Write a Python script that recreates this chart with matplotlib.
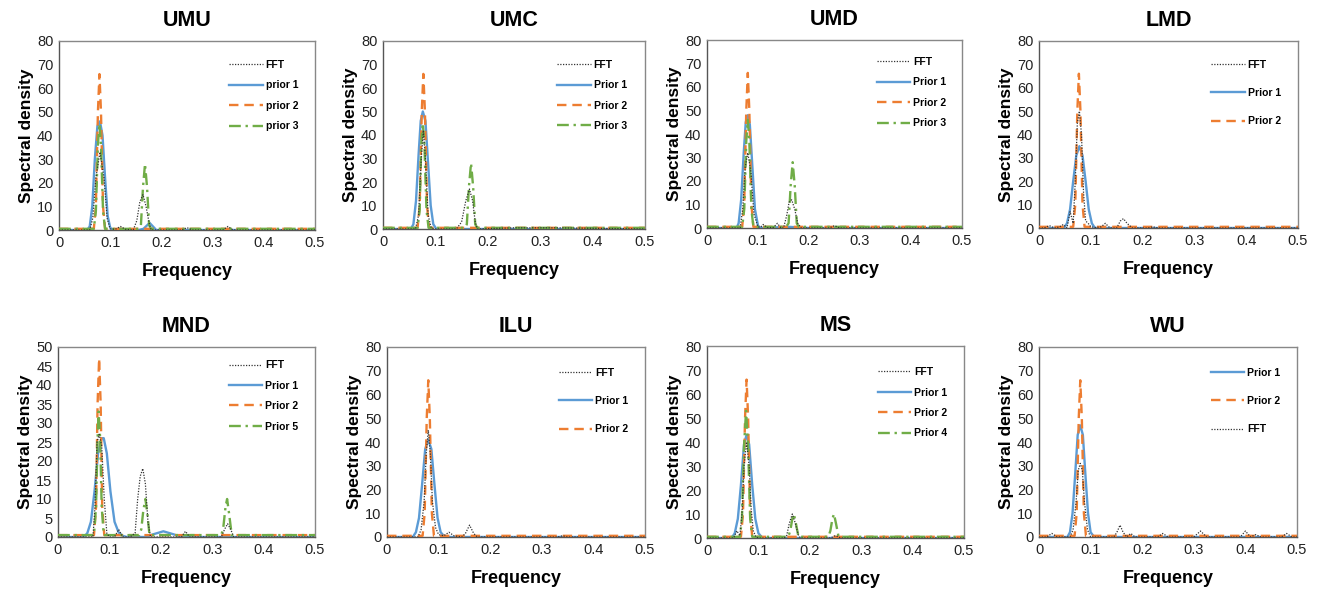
import matplotlib
matplotlib.use("Agg")
import matplotlib.pyplot as plt

plt.rcParams['font.family'] = ['Liberation Sans', 'DejaVu Sans']

# ---- data (frequency / spectral density points) ----
# UMU
UMU_FFT_F = [0, 0.06, 0.066, 0.072, 0.08, 0.088, 0.094, 0.1, 0.11, 0.12, 0.13, 0.145, 0.152, 0.158, 0.164, 0.17, 0.176, 0.18, 0.24, 0.25, 0.26, 0.32, 0.33, 0.34, 0.5]
UMU_FFT_S = [0, 0, 5, 22, 33, 22, 5, 0.5, 0.3, 1.5, 0.3, 0, 4, 12, 15, 10, 3, 0, 0, 1, 0, 0, 1.5, 0, 0]
UMU_P1_F = [0, 0.055, 0.06, 0.065, 0.07, 0.075, 0.08, 0.085, 0.09, 0.095, 0.1, 0.105, 0.155, 0.165, 0.177, 0.19, 0.5]
UMU_P1_S = [0, 0, 1.5, 10, 30, 44, 46, 40, 22, 6, 1, 0, 0, 0.5, 3, 0, 0]
UMU_P2_F = [0, 0.068, 0.072, 0.076, 0.079, 0.082, 0.086, 0.09, 0.5]
UMU_P2_S = [0.5, 0.5, 10, 50, 66, 50, 10, 0.5, 0.5]
UMU_P3_F = [0, 0.068, 0.072, 0.076, 0.079, 0.082, 0.086, 0.09, 0.155, 0.16, 0.164, 0.168, 0.172, 0.176, 0.18, 0.5]
UMU_P3_S = [0.5, 0.5, 8, 36, 45, 36, 8, 0.5, 0.5, 2, 18, 28, 18, 2, 0.5, 0.5]

# UMC
UMC_FFT_F = [0, 0.062, 0.068, 0.073, 0.077, 0.081, 0.086, 0.092, 0.1, 0.14, 0.15, 0.158, 0.165, 0.171, 0.176, 0.18, 0.25, 0.33, 0.5]
UMC_FFT_S = [0, 0, 6, 30, 42, 30, 6, 0.5, 0, 0, 3, 12, 17, 12, 3, 0, 0.5, 0.5, 0]
UMC_P1_F = [0, 0.053, 0.058, 0.063, 0.068, 0.072, 0.076, 0.081, 0.086, 0.091, 0.096, 0.102, 0.5]
UMC_P1_S = [0, 0, 2, 12, 32, 46, 50, 46, 28, 10, 2, 0, 0]
UMC_P2_F = [0, 0.066, 0.07, 0.074, 0.077, 0.08, 0.084, 0.088, 0.5]
UMC_P2_S = [0.5, 0.5, 10, 50, 66, 50, 10, 0.5, 0.5]
UMC_P3_F = [0, 0.066, 0.07, 0.073, 0.076, 0.079, 0.083, 0.087, 0.156, 0.16, 0.164, 0.168, 0.172, 0.176, 0.18, 0.5]
UMC_P3_S = [0.5, 0.5, 8, 36, 45, 36, 8, 0.5, 0.5, 2, 18, 28, 18, 2, 0.5, 0.5]

# UMD
UMD_FFT_F = [0, 0.065, 0.07, 0.075, 0.08, 0.086, 0.092, 0.1, 0.105, 0.11, 0.118, 0.13, 0.138, 0.145, 0.15, 0.156, 0.161, 0.166, 0.172, 0.178, 0.185, 0.24, 0.25, 0.26, 0.5]
UMD_FFT_S = [0, 0, 8, 26, 32, 24, 6, 0.5, 0.3, 1.5, 0.2, 0.2, 2, 0, 0, 5, 11, 12, 8, 2, 0, 0, 1, 0, 0]
UMD_P1_F = [0, 0.058, 0.062, 0.067, 0.072, 0.076, 0.08, 0.084, 0.089, 0.094, 0.1, 0.105, 0.16, 0.2, 0.5]
UMD_P1_S = [0, 0, 2, 12, 32, 45, 48, 44, 26, 8, 1, 0, 0.5, 0, 0]
UMD_P2_F = [0, 0.069, 0.073, 0.077, 0.08, 0.083, 0.087, 0.091, 0.5]
UMD_P2_S = [0.5, 0.5, 10, 50, 66, 50, 10, 0.5, 0.5]
UMD_P3_F = [0, 0.069, 0.073, 0.077, 0.08, 0.083, 0.087, 0.091, 0.155, 0.16, 0.164, 0.168, 0.172, 0.176, 0.18, 0.5]
UMD_P3_S = [0.5, 0.5, 8, 37, 46, 37, 8, 0.5, 0.5, 2, 18, 28, 18, 2, 0.5, 0.5]

# LMD
LMD_FFT_F = [0, 0.01, 0.02, 0.03, 0.04, 0.047, 0.054, 0.06, 0.066, 0.07, 0.074, 0.078, 0.082, 0.086, 0.09, 0.095, 0.1, 0.11, 0.12, 0.128, 0.137, 0.15, 0.157, 0.163, 0.17, 0.18, 0.21, 0.22, 0.23, 0.5]
LMD_FFT_S = [0, 0, 1, 0, 0.5, 1.5, 0, 7, 2, 20, 45, 50, 40, 15, 3, 2, 0.5, 0.2, 0.5, 2, 0, 0, 3, 4, 2, 0, 0, 0.5, 0, 0]
LMD_P1_F = [0, 0.048, 0.054, 0.06, 0.066, 0.072, 0.078, 0.084, 0.09, 0.096, 0.102, 0.108, 0.5]
LMD_P1_S = [0, 0, 2, 8, 20, 31, 35, 31, 20, 8, 2, 0, 0]
LMD_P2_F = [0, 0.066, 0.07, 0.074, 0.077, 0.08, 0.084, 0.088, 0.5]
LMD_P2_S = [0.5, 0.5, 10, 50, 66, 50, 10, 0.5, 0.5]

# MND
MND_FFT_F = [0, 0.068, 0.072, 0.076, 0.08, 0.085, 0.09, 0.095, 0.1, 0.11, 0.118, 0.126, 0.14, 0.15, 0.155, 0.16, 0.165, 0.17, 0.175, 0.18, 0.24, 0.248, 0.256, 0.318, 0.324, 0.33, 0.336, 0.342, 0.5]
MND_FFT_S = [0, 0, 8, 25, 27, 24, 10, 1, 0, 0, 2, 0, 0, 1, 10, 16, 18, 14, 4, 0, 0, 1.5, 0, 0, 2, 3.5, 2, 0, 0]
MND_P1_F = [0, 0.05, 0.057, 0.064, 0.071, 0.078, 0.085, 0.089, 0.095, 0.102, 0.11, 0.118, 0.126, 0.134, 0.17, 0.185, 0.205, 0.225, 0.24, 0.5]
MND_P1_S = [0, 0, 1, 4, 12, 22, 26, 26, 22, 12, 4, 1.2, 0.3, 0, 0, 0.7, 1.5, 0.7, 0, 0]
MND_P2_F = [0, 0.07, 0.074, 0.077, 0.08, 0.083, 0.086, 0.09, 0.5]
MND_P2_S = [0.5, 0.5, 8, 35, 47, 35, 8, 0.5, 0.5]
MND_P5_F = [0, 0.07, 0.074, 0.077, 0.079, 0.082, 0.085, 0.089, 0.158, 0.162, 0.166, 0.17, 0.174, 0.178, 0.318, 0.322, 0.326, 0.329, 0.333, 0.338, 0.5]
MND_P5_S = [0.5, 0.5, 8, 26, 33, 26, 8, 0.5, 0.5, 2, 7, 10, 6, 0.5, 0.5, 3, 8, 10, 6, 0.5, 0.5]

# ILU
ILU_FFT_F = [0, 0.06, 0.066, 0.072, 0.076, 0.08, 0.084, 0.088, 0.094, 0.1, 0.11, 0.12, 0.13, 0.145, 0.152, 0.16, 0.168, 0.175, 0.33, 0.34, 0.35, 0.5]
ILU_FFT_S = [0, 0, 3, 15, 35, 45, 35, 15, 4, 1, 0.5, 2, 0.5, 0, 1.5, 5, 1.5, 0, 0, 0.5, 0, 0]
ILU_P1_F = [0, 0.05, 0.056, 0.062, 0.068, 0.074, 0.08, 0.086, 0.092, 0.098, 0.104, 0.112, 0.5]
ILU_P1_S = [0, 0, 2, 8, 22, 37, 41, 37, 22, 8, 2, 0, 0]
ILU_P2_F = [0, 0.069, 0.073, 0.077, 0.08, 0.083, 0.087, 0.091, 0.5]
ILU_P2_S = [0.5, 0.5, 10, 50, 66, 50, 10, 0.5, 0.5]

# MS
MS_FFT_F = [0, 0.052, 0.058, 0.064, 0.068, 0.072, 0.077, 0.082, 0.086, 0.09, 0.095, 0.1, 0.15, 0.155, 0.16, 0.166, 0.172, 0.178, 0.182, 0.24, 0.25, 0.26, 0.5]
MS_FFT_S = [0, 0, 3, 1, 10, 30, 40, 30, 12, 3, 0.5, 0, 0, 1, 6, 10, 6, 1, 0, 0, 1, 0, 0]
MS_P1_F = [0, 0.048, 0.054, 0.06, 0.066, 0.072, 0.077, 0.082, 0.088, 0.094, 0.1, 0.108, 0.5]
MS_P1_S = [0, 0, 2, 8, 22, 39, 43, 39, 22, 8, 2, 0, 0]
MS_P2_F = [0, 0.066, 0.07, 0.074, 0.077, 0.08, 0.084, 0.088, 0.5]
MS_P2_S = [0.5, 0.5, 10, 50, 66, 50, 10, 0.5, 0.5]
MS_P4_F = [0, 0.064, 0.068, 0.072, 0.076, 0.08, 0.084, 0.088, 0.158, 0.162, 0.166, 0.169, 0.173, 0.178, 0.236, 0.24, 0.244, 0.247, 0.251, 0.256, 0.5]
MS_P4_S = [0.5, 0.5, 8, 38, 53, 38, 8, 0.5, 0.5, 3, 8, 10, 6, 0.5, 0.5, 3, 8, 10, 6, 0.5, 0.5]

# WU
WU_P1_F = [0, 0.055, 0.06, 0.065, 0.07, 0.075, 0.08, 0.085, 0.09, 0.095, 0.1, 0.107, 0.5]
WU_P1_S = [0, 0, 2, 10, 26, 43, 47, 43, 26, 10, 2, 0, 0]
WU_P2_F = [0, 0.069, 0.073, 0.077, 0.08, 0.083, 0.087, 0.091, 0.5]
WU_P2_S = [0.5, 0.5, 10, 50, 66, 50, 10, 0.5, 0.5]
WU_FFT_F = [0, 0.015, 0.025, 0.035, 0.06, 0.066, 0.072, 0.076, 0.08, 0.084, 0.088, 0.094, 0.1, 0.145, 0.151, 0.157, 0.163, 0.17, 0.178, 0.186, 0.23, 0.24, 0.25, 0.3, 0.313, 0.325, 0.39, 0.4, 0.41, 0.42, 0.43, 0.47, 0.48, 0.49, 0.5]
WU_FFT_S = [0, 0, 1.5, 0, 0, 3, 15, 28, 31, 28, 15, 3, 0, 0, 2, 5, 2, 0, 1.5, 0, 0, 1.5, 0, 0, 2.5, 0, 0, 2.5, 0, 1, 0, 0, 1.5, 0, 0]

PANELS = ['UMU', 'UMC', 'UMD', 'LMD', 'MND', 'ILU', 'MS', 'WU']
YMAX = [80, 80, 80, 80, 50, 80, 80, 80]
YSTEP = [10, 10, 10, 10, 5, 10, 10, 10]

# kind, label, freqs, density  (in legend order)
SERIES = {
    'UMU': [('fft', 'FFT', UMU_FFT_F, UMU_FFT_S), ('p1', 'prior 1', UMU_P1_F, UMU_P1_S),
            ('p2', 'prior 2', UMU_P2_F, UMU_P2_S), ('p3', 'prior 3', UMU_P3_F, UMU_P3_S)],
    'UMC': [('fft', 'FFT', UMC_FFT_F, UMC_FFT_S), ('p1', 'Prior 1', UMC_P1_F, UMC_P1_S),
            ('p2', 'Prior 2', UMC_P2_F, UMC_P2_S), ('p3', 'Prior 3', UMC_P3_F, UMC_P3_S)],
    'UMD': [('fft', 'FFT', UMD_FFT_F, UMD_FFT_S), ('p1', 'Prior 1', UMD_P1_F, UMD_P1_S),
            ('p2', 'Prior 2', UMD_P2_F, UMD_P2_S), ('p3', 'Prior 3', UMD_P3_F, UMD_P3_S)],
    'LMD': [('fft', 'FFT', LMD_FFT_F, LMD_FFT_S), ('p1', 'Prior 1', LMD_P1_F, LMD_P1_S),
            ('p2', 'Prior 2', LMD_P2_F, LMD_P2_S)],
    'MND': [('fft', 'FFT', MND_FFT_F, MND_FFT_S), ('p1', 'Prior 1', MND_P1_F, MND_P1_S),
            ('p2', 'Prior 2', MND_P2_F, MND_P2_S), ('p3', 'Prior 5', MND_P5_F, MND_P5_S)],
    'ILU': [('fft', 'FFT', ILU_FFT_F, ILU_FFT_S), ('p1', 'Prior 1', ILU_P1_F, ILU_P1_S),
            ('p2', 'Prior 2', ILU_P2_F, ILU_P2_S)],
    'MS': [('fft', 'FFT', MS_FFT_F, MS_FFT_S), ('p1', 'Prior 1', MS_P1_F, MS_P1_S),
           ('p2', 'Prior 2', MS_P2_F, MS_P2_S), ('p3', 'Prior 4', MS_P4_F, MS_P4_S)],
    'WU': [('p1', 'Prior 1', WU_P1_F, WU_P1_S), ('p2', 'Prior 2', WU_P2_F, WU_P2_S),
           ('fft', 'FFT', WU_FFT_F, WU_FFT_S)],
}

STYLE = {
    'fft': dict(color='#333333', lw=0.9, ls=(0, (1, 1.2)), zorder=5),
    'p1': dict(color='#5B9BD5', lw=1.7, ls='-', zorder=2),
    'p2': dict(color='#ED7D31', lw=1.7, ls=(0, (4, 2.5)), zorder=3),
    'p3': dict(color='#70AD47', lw=1.7, ls=(0, (5, 2, 1, 2)), zorder=4),
}

# axes boxes in pixels: left, right, top, bottom
BOXES = [(59, 315, 41, 230), (383, 645, 41, 229), (707, 962, 40, 228), (1039, 1298, 41, 228),
         (58, 315, 347, 537), (387, 645, 347, 537), (707, 964, 346, 538), (1039, 1297, 347, 537)]
LEG_Y = [0.90, 0.90, 0.91, 0.90, 0.93, 0.89, 0.89, 0.89]

W, H = 1320, 594
fig = plt.figure(figsize=(W / 100, H / 100), dpi=100)

for i, name in enumerate(PANELS):
    l, r, t, b = BOXES[i]
    ax = fig.add_axes([l / W, 1 - b / H, (r - l) / W, (b - t) / H])
    for kind, label, f, s in SERIES[name]:
        ax.plot(f, s, label=label, **STYLE[kind])
    ax.set_xlim(0, 0.5)
    ax.set_ylim(0, YMAX[i])
    ax.set_xticks([0, 0.1, 0.2, 0.3, 0.4, 0.5])
    ax.set_xticklabels(['0', '0.1', '0.2', '0.3', '0.4', '0.5'])
    ax.set_yticks(range(0, YMAX[i] + 1, YSTEP[i]))
    ax.tick_params(length=0, labelsize=10.5, pad=4, colors='#222222')
    for side in ['top', 'right']:
        ax.spines[side].set_color('#888888')
    for side in ['left', 'bottom']:
        ax.spines[side].set_color('#555555')
    for sp in ax.spines.values():
        sp.set_linewidth(1.0)
    ax.set_title(name, fontsize=15.5, fontweight='bold', pad=11)
    ax.set_xlabel('Frequency', fontsize=13, fontweight='bold', labelpad=10)
    ax.set_ylabel('Spectral density', fontsize=12.5, fontweight='bold', labelpad=2)
    n = len(SERIES[name])
    ax.legend(loc='upper left', bbox_to_anchor=(0.665, LEG_Y[i]), frameon=False,
              prop=dict(weight='bold', size=7.5), handlelength=3.2, handletextpad=0.3,
              borderpad=0, borderaxespad=0, labelspacing=1.0 if n == 4 else 1.75)

fig.savefig('out.png', dpi=100)
